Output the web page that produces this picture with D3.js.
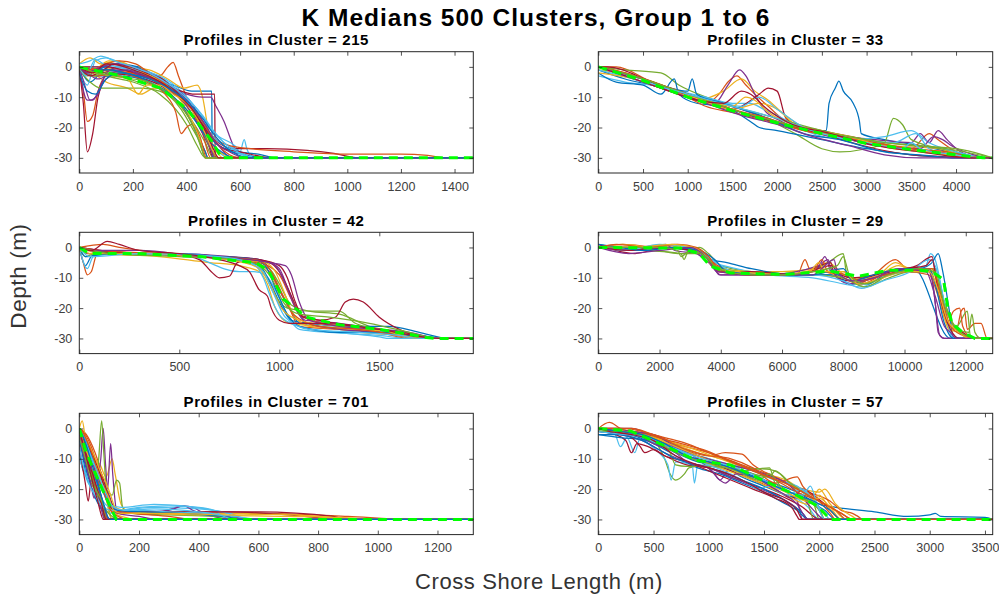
<!DOCTYPE html>
<html>
<head>
<meta charset="utf-8">
<script src="https://cdn.jsdelivr.net/npm/d3@7"></script>
<style>
  body { margin: 0; background: #fff; }
  svg { display: block; }
  text { font-family: "Liberation Sans", Arial, Helvetica, sans-serif; }
</style>
</head>
<body>
<svg id="fig" width="999" height="599"></svg>
<script>
// ---- Figure text ----
const figureTitle = "K Medians 500 Clusters, Group 1 to 6";
const xAxisLabel = "Cross Shore Length (m)";
const yAxisLabel = "Depth (m)";

// ---- Cluster sizes (one subplot each) ----
const clusterSizes = [215, 33, 42, 29, 701, 57];

// ---- Cross-shore extent of each subplot (m) ----
const xExtents = [1470, 4410, 1970, 12880, 1320, 3570];

// ---- Tick labels ----
const xTickValues = [
  [0, 200, 400, 600, 800, 1000, 1200, 1400],
  [0, 500, 1000, 1500, 2000, 2500, 3000, 3500, 4000],
  [0, 500, 1000, 1500],
  [0, 2000, 4000, 6000, 8000, 10000, 12000],
  [0, 200, 400, 600, 800, 1000, 1200],
  [0, 500, 1000, 1500, 2000, 2500, 3000, 3500]
];
const yTickValues = [0, -10, -20, -30];
const yDomain = [-35, 5];
const floorDepth = -30;   // profiles are padded at this depth to the subplot extent

// ---- Cluster 215: profiles [cross-shore m, depth m] ----
const profiles215 = [
  [[0,0],[40,-5],[80,-2],[140,1],[220,0],[300,-4],[370,-9],[430,-15],[480,-22],[540,-27],[620,-29],[700,-30]],
  [[0,0],[15,-8],[30,-18],[50,-16],[70,-8],[100,-3],[180,-1],[260,-3],[330,-8],[380,-13],[430,-20],[470,-28],[480,-30]],
  [[0,0],[50,-2],[100,-5],[180,-7],[230,-9],[280,-7],[340,-8],[400,-13],[450,-20],[490,-27],[510,-30]],
  [[0,-1],[30,-11],[50,-11],[80,-6],[110,-1],[180,0],[260,-2],[340,-6],[420,-12],[470,-20],[520,-26],[570,-30]],
  [[0,-1],[40,-5],[80,-7],[150,-7],[230,-7],[300,-8],[380,-13],[430,-19],[470,-25],[500,-30]],
  [[0,-1],[30,-6],[60,2],[100,3],[160,1],[220,-1],[300,-4],[380,-9],[440,-16],[480,-23],[520,-28],[560,-30]],
  [[0,-1],[15,-12],[30,-28],[50,-22],[70,-10],[100,-4],[160,-2],[240,-3],[320,-7],[400,-12],[450,-18],[480,-25],[500,-30]],
  [[0,0],[80,-1],[180,-2],[280,-4],[350,-6],[420,-8],[494,-8],[496,-30]],
  [[0,0],[80,-2],[160,0],[240,-2],[300,-3],[330,0],[350,1.5],[370,-3],[400,-10],[430,-16],[460,-22],[490,-30]],
  [[0,0],[70,-1],[170,0],[260,-1],[330,-4],[390,-7],[440,-6],[460,-10],[480,-20],[500,-26],[540,-30]],
  [[0,0],[60,-1],[150,-1],[250,-3],[330,-6],[400,-9],[460,-10],[490,-10],[510,-13],[540,-18],[570,-25],[600,-30]],
  [[0,0],[100,-3],[200,-5],[300,-9],[360,-14],[400,-19],[440,-26],[470,-30]],
  [[0,0],[100,-1],[200,-3],[300,-6],[400,-12],[460,-18],[520,-23],[580,-26],[600,-28],[615,-24],[625,-27],[650,-30]],
  [[0,0],[100,-2],[200,-3],[300,-6],[400,-12],[470,-20],[520,-25],[580,-27],[700,-27],[850,-27.5],[950,-28.5],[1040,-30]],
  [[0,0],[60,-3],[150,-3],[260,-5],[340,-9],[400,-15],[440,-22],[470,-28],[480,-30]],
  [[0,-1],[60,-3],[150,-2],[250,-5],[320,-9],[360,-15],[380,-22],[400,-20],[420,-19],[450,-23],[475,-30]],
  [[0,1],[40,3],[80,1],[140,2],[200,0],[280,-3],[350,-7],[400,-11],[440,-16],[470,-21],[500,-26],[540,-29],[580,-30]],
  [[0,0],[20,-6],[40,-11],[70,-9],[100,-2],[150,0],[220,-2],[300,-5],[360,-9],[410,-14],[460,-22],[490,-27],[520,-30]],
  [[0,0],[30,-3],[60,-1],[120,1],[200,-1],[260,-3],[320,-6],[380,-10],[420,-14],[450,-19],[480,-25],[510,-30]],
  [[0,0],[90,0],[200,-1],[300,-3],[380,-8],[440,-14],[490,-20],[540,-25],[580,-27],[650,-30]],
  [[0,0],[100,0],[200,-2],[300,-5],[380,-8],[430,-9],[505,-9],[507,-30]],
  [[0,0],[60,-1],[130,1],[210,0],[290,-4],[360,-8],[420,-13],[470,-21],[520,-26],[600,-28],[680,-29],[730,-30]],
  [[0,0],[90,-1],[190,-2],[290,-5],[390,-11],[450,-17],[500,-23],[560,-26],[640,-27],[800,-28],[1000,-28.8],[1200,-28.8],[1300,-29.2],[1370,-30]],
  [[0,0],[40,-2],[110,2],[170,1],[240,-2],[310,-5],[370,-10],[410,-16],[450,-24],[470,-30]],
  [[0,0],[30,-2],[70,-4],[120,-2],[180,-1],[230,-3],[280,-4],[330,-7],[370,-10],[410,-13],[445,-17],[470,-22],[490,-27],[505,-30]],
  [[0,-1],[50,-3],[100,-2],[150,-3],[220,-5],[270,-6],[330,-9],[380,-14],[420,-20],[450,-25],[470,-30]],
  [[0,0],[25,-3],[60,2.5],[90,1],[150,0],[210,-1],[270,-2],[330,-5],[390,-10],[430,-15],[470,-20],[510,-24],[560,-27],[610,-29],[660,-30]],
  [[0,0],[40,-3],[90,-1],[130,1],[190,0],[250,-2],[310,-4],[360,-8],[410,-13],[460,-19],[500,-24],[540,-27],[600,-28],[720,-30]],
  [[0,0],[50,-1],[110,-1],[170,-2],[240,-4],[300,-7],[350,-10],[400,-14],[450,-20],[490,-25],[530,-28],[580,-30]],
  [[0,0],[40,-1],[100,1],[150,2],[210,1],[260,-2],[310,-5],[360,-9],[400,-12],[440,-15],[480,-21],[520,-26],[560,-29],[600,-30]],
  [[0,0],[60,-2],[120,-3],[180,-4],[220,-9],[250,-6],[300,-6],[350,-9],[400,-12],[440,-17],[470,-22],[500,-28],[520,-30]],
  [[0,0],[30,-2],[80,0],[140,1],[200,0],[260,-2],[320,-5],[380,-9],[430,-14],[470,-19],[510,-25],[560,-28],[620,-30]],
  [[0,0],[60,-2],[130,-3],[200,-4],[260,-5],[320,-8],[370,-12],[410,-17],[440,-23],[460,-28],[470,-30]],
  [[0,1],[40,2],[80,3.5],[130,2],[200,0],[260,-2],[320,-5],[370,-8],[420,-12],[460,-16],[500,-21],[540,-25],[590,-28],[640,-30]],
  [[0,0],[50,-2],[100,1],[150,0.5],[200,-1],[260,-3],[320,-6],[380,-10],[430,-15],[470,-21],[500,-27],[520,-30]],
  [[0,-2],[30,-8],[60,-9],[100,-4],[150,-2],[220,-3],[290,-5],[350,-8],[410,-12],[460,-17],[500,-22],[540,-26],[590,-29],[640,-30]]
];
const median215 = [[0,0],[20,-0.5],[145,-2.7],[306,-7.1],[406,-14.3],[493,-24.3],[531,-30],[1470,-30]];

// ---- Cluster 33 ----
const profiles33 = [
  [[0,-1],[300,-4],[600,-6],[900,-8],[1200,-11],[1500,-14],[1800,-17],[2100,-19],[2400,-21],[2550,-21],[2580,-12],[2650,-7],[2690,-4.7],[2740,-8],[2850,-12],[2920,-18],[2940,-22],[3200,-24],[3600,-26],[4000,-28.5],[4300,-30]],
  [[0,0],[200,0],[600,-5],[1000,-9],[1200,-12],[1350,-9],[1450,-5],[1550,-3],[1650,-6],[1750,-9],[1900,-13],[2100,-18],[2500,-21],[3000,-24],[3500,-27],[3700,-22],[3800,-24],[4000,-28],[4250,-30]],
  [[0,-1],[400,-3],[800,-7],[1100,-11],[1400,-8],[1600,-4],[1750,-8],[1900,-11],[2050,-15],[2300,-20],[2800,-23],[3300,-26],[3800,-27],[4200,-30]],
  [[0,0],[300,-3],[700,-7],[1000,-10],[1300,-12],[1450,-6],[1580,-1],[1650,-3],[1750,-9],[1850,-14],[2050,-18],[2500,-22],[3100,-24],[3500,-25],[3600,-22],[3700,-25],[3800,-21],[3900,-24],[4050,-28],[4300,-30]],
  [[0,0],[300,-1],[700,-2],[900,-6],[1300,-11],[1800,-16],[2200,-22],[2500,-27],[2700,-28],[3000,-27],[3200,-25],[3300,-17],[3400,-19],[3500,-24],[4000,-28],[4300,-30]],
  [[0,-3],[300,-5],[600,-6],[900,-8],[1200,-10],[1500,-12],[1700,-12],[1850,-14],[2000,-16],[2300,-21],[2800,-24],[3200,-23],[3500,-21],[3700,-25],[4000,-28],[4400,-30]],
  [[0,0],[400,-3],[800,-7],[1200,-12],[1500,-14],[1800,-9],[1900,-7],[2000,-8],[2100,-17],[2400,-21],[3000,-25],[3500,-27],[4000,-29],[4350,-30]],
  [[0,-2],[200,-5],[500,-6],[700,-9],[850,-4],[900,-9],[1100,-12],[1400,-13],[1700,-18],[1800,-20],[2000,-21],[2500,-24],[3000,-27],[3500,-29],[4000,-30]],
  [[0,0],[300,-2],[600,-5],[1000,-10],[1200,-13],[1500,-15],[1900,-18],[2300,-21],[2800,-24],[3200,-26],[3500,-27],[3800,-28],[4300,-30]],
  [[0,0],[500,-4],[1000,-9],[1500,-14],[1800,-12],[2000,-14],[2200,-19],[2700,-23],[3200,-26],[3600,-28],[4000,-29],[4300,-30]],
  [[0,0],[600,-5],[1100,-10],[1600,-14],[2100,-19],[2600,-22],[3100,-26],[3600,-27],[3750,-23],[3850,-24],[3950,-26],[4200,-29],[4350,-30]],
  [[0,0],[500,-4],[1000,-9],[1500,-13],[2000,-17],[2500,-21],[3000,-24],[3500,-26],[4000,-27],[4300,-29],[4410,-30]],
  [[0,-1],[400,-4],[900,-8],[1300,-11],[1600,-13],[1800,-10],[2000,-14],[2300,-20],[2800,-24],[3300,-25],[3550,-22],[3700,-27],[4100,-30]],
  [[0,0],[100,0],[600,-5],[1100,-10],[1600,-15],[2100,-19],[2600,-23],[3100,-27],[3500,-29],[3800,-29.5],[4200,-30]],
  [[0,0],[400,-3],[800,-7],[1000,-8],[1050,-4],[1100,-9],[1400,-12],[1900,-17],[2300,-22],[2700,-24],[3200,-28],[3600,-29],[4000,-30]],
  [[0,0],[300,-2],[700,-6],[1100,-10],[1500,-14],[1900,-17],[2300,-21],[2700,-23],[3100,-25],[3500,-27],[3900,-28],[4250,-30]],
  [[0,-2],[400,-4],[800,-8],[1200,-11],[1500,-13],[1650,-10],[1750,-11],[1900,-15],[2300,-20],[2800,-23],[3300,-27],[3700,-28],[4150,-30]],
  [[0,0],[400,-4],[800,-8],[1200,-12],[1600,-16],[2000,-19],[2400,-23],[2800,-26],[3200,-29],[3600,-30]],
  [[0,0],[400,-3],[800,-7],[1200,-11],[1600,-15],[2000,-18],[2400,-21],[2800,-23],[3200,-25],[3600,-26],[4000,-27.5],[4410,-30]],
  [[0,0],[500,-5],[1000,-9],[1500,-13],[2000,-17],[2500,-22],[3000,-25],[3400,-27],[3500,-25],[3600,-27],[4000,-29],[4300,-30]],
  [[0,0],[300,-3],[700,-7],[1100,-11],[1400,-12],[1600,-8],[1750,-10],[1850,-13],[2100,-18],[2600,-22],[3100,-26],[3600,-28],[4200,-30]]
];
const median33 = [[0,0],[500,-4.5],[1000,-10],[1500,-14.5],[2000,-18.5],[2500,-22],[3000,-25.3],[3500,-27.3],[4000,-29],[4300,-30],[4410,-30]];

// ---- Cluster 42 ----
const profiles42 = [
  [[0,0],[30,-6],[60,-3],[100,-2],[400,-2],[700,-3],[900,-4],[960,-8],[1000,-14],[1060,-21],[1100,-25],[1200,-26],[1400,-27],[1600,-28],[1850,-30]],
  [[0,0],[20,-5],[40,-9],[60,-8],[90,-2],[200,-2],[500,-2],[750,-4],[880,-5],[950,-8],[1000,-14],[1050,-20],[1100,-26],[1300,-27],[1500,-28],[1700,-30]],
  [[0,0],[100,-2],[400,-3],[650,-5],[800,-6],[900,-8],[940,-12],[980,-20],[1050,-25],[1200,-26],[1400,-28],[1600,-29],[1700,-30]],
  [[0,0],[100,-1],[300,-2],[600,-3],[850,-4],[950,-5],[1000,-7],[1040,-13],[1080,-19],[1130,-24],[1300,-25],[1500,-27],[1700,-29],[1800,-30]],
  [[0,0],[50,-2],[300,-2],[600,-3],[850,-5],[950,-7],[1000,-12],[1060,-19],[1150,-21],[1300,-22],[1450,-26],[1600,-28],[1750,-30]],
  [[0,0],[40,-7],[70,-3],[200,-2],[500,-2],[800,-8],[870,-8],[930,-9],[980,-14],[1030,-21],[1100,-27],[1250,-28],[1500,-29],[1650,-30]],
  [[0,0],[100,-1],[300,-2],[500,-2.5],[600,-4],[660,-8],[700,-10],[750,-9.5],[790,-5],[850,-4],[950,-5],[1000,-8],[1060,-16],[1100,-22],[1200,-24],[1400,-26],[1600,-28],[1750,-30]],
  [[0,0],[200,-2],[500,-2],[700,-3],[900,-6],[950,-11],[1000,-18],[1060,-24],[1150,-25],[1350,-26],[1550,-26],[1700,-28],[1850,-30]],
  [[0,0],[120,1],[200,0],[450,-2],[700,-3],[900,-5],[1000,-9],[1060,-17],[1120,-23],[1300,-26],[1500,-28],[1650,-30]],
  [[0,0],[150,-2],[450,-2],[800,-4],[930,-5],[980,-8],[1020,-14],[1070,-22],[1150,-26],[1400,-27],[1600,-28],[1750,-30]],
  [[0,0],[40,-2],[200,-2],[500,-2],[750,-3],[900,-4],[980,-6],[1030,-12],[1080,-20],[1140,-25],[1300,-27],[1500,-28],[1650,-29],[1800,-30]],
  [[0,0],[30,-3],[80,-2],[300,-2],[650,-3],[870,-5],[920,-8],[980,-16],[1040,-20],[1150,-21],[1300,-21],[1380,-25],[1500,-27],[1700,-30]],
  [[0,0],[150,-2],[500,-2],[750,-4],[880,-6],[920,-10],[960,-17],[1010,-23],[1100,-26],[1300,-28],[1500,-29.5],[1550,-30]],
  [[0,0],[100,-1.5],[400,-2],[700,-3],[900,-4],[1000,-6],[1040,-10],[1080,-18],[1120,-23],[1200,-24],[1280,-23],[1330,-18],[1370,-17],[1420,-18],[1500,-23],[1600,-27],[1750,-30]],
  [[0,0],[30,-3],[150,-2],[450,-2],[700,-3],[880,-4],[930,-6],[990,-15],[1040,-22],[1100,-26],[1300,-28],[1550,-28],[1750,-30]],
  [[0,0],[100,-1],[400,-2],[650,-3],[880,-4],[950,-7],[1020,-16],[1070,-22],[1200,-26],[1400,-27],[1600,-29],[1750,-30]],
  [[0,-1],[60,-2],[300,-2],[600,-3],[820,-5],[900,-7],[960,-13],[1010,-20],[1100,-24],[1300,-26],[1500,-27],[1700,-30]],
  [[0,0],[80,-1],[300,-1],[600,-3],[850,-4],[950,-5],[1030,-6],[1060,-9],[1100,-18],[1150,-24],[1300,-26],[1500,-27],[1650,-28],[1800,-30]],
  [[0,0],[150,-2],[500,-3],[780,-4],[900,-6],[960,-10],[1020,-18],[1100,-22],[1250,-23],[1450,-25],[1650,-28],[1800,-30]],
  [[0,0],[50,-3],[300,-2],[700,-3],[850,-5],[920,-8],[970,-15],[1030,-23],[1150,-27],[1400,-28],[1600,-29],[1700,-30]],
  [[0,0],[60,-1],[140,2],[200,1],[300,-1],[500,-2],[700,-4],[800,-6],[850,-8],[900,-14],[940,-16],[960,-20],[1000,-24],[1050,-25],[1200,-25],[1500,-27],[1800,-30]]
];
const median42 = [[0,0],[50,-2],[300,-2],[600,-3],[887,-5.1],[950,-8],[1020,-17],[1137,-23],[1300,-25.5],[1503,-27],[1737,-29.7],[1780,-30],[1970,-30]];

// ---- Cluster 29 ----
const profiles29 = [
  [[0,1],[500,0],[1000,-1],[2000,0],[3000,-1],[3500,-3],[3800,-7],[4500,-8],[6000,-9],[7000,-9],[8000,-9],[8500,-11],[9500,-8],[10300,-7],[11500,-30]],
  [[0,0],[800,1],[2000,0],[3000,0],[3600,-3],[3900,-8],[5000,-9],[6500,-9],[6750,-4],[6900,-7],[7400,-8],[8000,-10],[8500,-12],[9000,-9],[9700,-4],[10200,-8],[10800,-7],[11100,-15],[11400,-22],[11700,-27],[11850,-21],[11950,-20],[12050,-27],[12300,-25],[12500,-25],[12700,-30]],
  [[0,0],[1500,0],[2700,0],[3300,-1],[3800,-6],[4800,-8],[6000,-8],[7000,-7],[7500,-5],[8200,-10],[9000,-10],[9700,-5],[10200,-7],[10900,-7],[11200,-16],[11500,-24],[12000,-29],[12300,-30]],
  [[0,0],[1200,-1],[2200,1],[2500,-1],[3200,-2],[3700,-5],[3950,-9],[5500,-9],[7200,-6],[7400,-3],[7600,-8],[8300,-12],[9000,-10],[10000,-7],[10700,-7],[10900,-10],[11000,-18],[11150,-29],[11300,-30]],
  [[0,0],[1500,-1],[2700,-2],[2800,-4],[2900,-2],[3300,0],[3600,-2],[4000,-6],[5000,-8],[6500,-9],[7500,-5],[8000,-2],[8100,-8],[8700,-13],[9500,-9],[10500,-7],[11000,-7],[11300,-18],[11700,-26],[12050,-21],[12150,-29],[12400,-30]],
  [[0,0],[1000,-1],[2500,0],[3300,-2],[3800,-5],[4500,-7],[5500,-9],[7000,-10],[8000,-12],[8600,-13],[9200,-10],[10000,-8],[10700,-6],[10850,-2],[11000,-4],[11200,-13],[11400,-25],[11600,-30]],
  [[0,1],[1200,-2],[2200,0],[3200,-1],[3500,-3],[3850,-7],[5000,-9],[6500,-9],[7600,-5],[7700,-9],[8200,-11],[8700,-10],[9500,-8],[10400,-6],[10900,-3],[11000,-8],[11200,-18],[11500,-26],[11900,-28],[12200,-30]],
  [[0,0],[1000,0],[2500,0],[3300,-1],[3700,-4],[4200,-5],[5000,-7],[6500,-9],[7800,-9],[8200,-12],[8800,-12],[9500,-8],[10500,-7],[10900,-5],[11100,-2],[11250,-8],[11450,-20],[11600,-30]],
  [[0,0],[1000,0],[2500,1],[3400,-2],[3900,-6],[4500,-8],[6000,-9],[7000,-8],[8000,-8],[8600,-12],[9300,-9],[10000,-8],[10800,-9],[11100,-16],[11400,-25],[11600,-21],[11800,-20],[11900,-26],[12200,-30]],
  [[0,0],[800,1],[1800,0],[2900,0],[3500,-2],[3900,-7],[5000,-8],[6200,-9],[7300,-7],[7700,-9],[8400,-11],[9200,-9],[9800,-6],[10400,-8],[10900,-7],[11150,-17],[11450,-27],[11800,-28],[12100,-30]],
  [[0,0],[1000,-1],[2100,0],[3000,-1],[3600,-5],[4000,-9],[6000,-9],[7000,-8],[7500,-4],[7600,-7],[8200,-12],[9000,-10],[10000,-8],[10800,-8],[11000,-18],[11100,-28],[11300,-30]],
  [[0,0],[1000,0],[2000,-1],[2600,-2],[3400,-2],[3800,-6],[4600,-8],[6000,-9],[7000,-9],[8000,-10],[8700,-13],[9500,-10],[10200,-8],[10900,-8],[11300,-18],[11700,-27],[12100,-28],[12200,-22],[12300,-28],[12500,-30]],
  [[0,0],[900,-1],[2000,1],[3000,0],[3700,-4],[4400,-8],[5500,-9],[7000,-9],[8000,-11],[8600,-13.5],[9300,-11],[10200,-8],[10800,-4],[11000,-6],[11300,-18],[11500,-28],[11700,-30]],
  [[0,0],[1000,-1],[2000,0],[3100,-1],[3600,-4],[3950,-8],[5000,-8],[6500,-9],[7600,-6],[7900,-9],[8300,-10],[9000,-9],[10000,-7],[10700,-6],[10900,-4],[11100,-14],[11500,-27],[11800,-30]],
  [[0,1],[700,0],[1500,-1],[2500,0],[3300,-1],[3800,-4],[4200,-8],[5500,-9],[7000,-9],[8000,-7],[8300,-11],[9000,-9],[10000,-7],[10800,-7],[11000,-12],[11300,-25],[11600,-30]],
  [[0,0],[600,1],[1600,0],[2600,1],[3200,0],[3600,-3],[4000,-8],[5000,-9],[6000,-9],[7000,-8],[7300,-4],[7500,-8],[8100,-9],[8600,-11],[9400,-9],[10000,-8],[10900,-7],[11200,-16],[11500,-26],[11900,-29],[12200,-30]],
  [[0,0],[1200,0],[2400,1],[3100,0],[3500,-3],[3800,-7],[4600,-8],[6000,-9],[6900,-8],[7200,-5],[7400,-8],[8000,-8],[8500,-12],[9300,-10],[10000,-8],[10800,-8],[11100,-14],[11400,-24],[11800,-28],[12100,-30]],
  [[0,0],[1000,-2],[2000,-1],[3000,0],[3500,-3],[3900,-8],[5000,-9],[6000,-9],[7000,-9],[7700,-4],[7800,-8],[8300,-11],[9000,-10],[9800,-7],[10700,-8],[11000,-16],[11300,-26],[11500,-28],[11700,-30]],
  [[0,0],[1000,0],[2000,0],[2600,-1],[2700,-3],[3000,-1],[3500,-3],[3900,-7],[5000,-9],[6000,-9],[7000,-8],[7800,-6],[8000,-3],[8200,-9],[8700,-12],[9500,-9],[10500,-7],[11000,-8],[11300,-19],[11700,-27],[12000,-29],[12300,-30]]
];
const median29 = [[0,0],[2680,-0.2],[3300,-2],[3660,-6.2],[4314,-8.4],[6058,-8.9],[7582,-7.8],[8500,-9.5],[9500,-7.5],[10500,-7.5],[10900,-8],[11274,-10.6],[11400,-19],[11550,-25],[11900,-28],[12300,-30],[12880,-30]];

// ---- Cluster 701 ----
const profiles701 = [
  [[0,-8],[10,-13],[20,-15],[35,-10],[50,-18],[65,-22],[80,-26],[85,-30]],
  [[0,0],[15,-1],[30,-3],[45,-6],[60,-10],[75,-16],[90,-22],[105,-27],[130,-28],[300,-28],[600,-28],[900,-29],[1100,-30]],
  [[0,0],[10,2.5],[20,-3],[40,-8],[70,-12],[90,-16],[110,-10],[120,-15],[140,-25],[160,-27],[400,-28],[600,-28],[800,-29],[1000,-30]],
  [[0,0],[20,-6],[40,-14],[60,-17],[72,-10],[80,0],[88,-12],[95,-20],[105,-5],[112,-15],[125,-27],[140,-28],[250,-28],[350,-25.5],[380,-26],[420,-28],[500,-29],[600,-30]],
  [[0,0],[10,-5],[25,-12],[40,-18],[55,-20],[65,-10],[75,2.5],[82,-8],[90,-20],[100,-27],[110,-30]],
  [[0,-10],[15,-14],[30,-18],[45,-20],[60,-22],[80,-25],[100,-28],[150,-27],[250,-26],[400,-26.5],[500,-28],[520,-30]],
  [[0,-5],[10,-12],[20,-18],[30,-24],[40,-17],[55,-20],[70,-24],[85,-28],[88,-30]],
  [[0,0],[15,-4],[30,-10],[50,-16],[70,-22],[85,-27],[90,-30]],
  [[0,-2],[10,-6],[25,-10],[45,-14],[65,-18],[85,-22],[100,-26],[120,-29],[140,-30]],
  [[0,0],[20,-3],[40,-7],[55,-12],[70,-17],[90,-23],[100,-28],[110,-30]],
  [[0,0],[20,-3],[40,-8],[60,-14],[80,-18],[100,-22],[120,-27],[150,-28],[300,-27],[350,-25.5],[380,-27],[450,-29],[500,-30]],
  [[0,0],[20,-7],[40,-13],[60,-17],[90,-20],[110,-22],[125,-17],[135,-18],[145,-26],[170,-28],[300,-28.5],[450,-29],[600,-30]],
  [[0,-5],[20,-9],[40,-14],[60,-19],[80,-24],[100,-26],[130,-27],[200,-26],[300,-25.5],[400,-26],[450,-27],[500,-30]],
  [[0,0],[10,-2],[25,-5],[40,-8],[60,-12],[75,-15],[90,-20],[110,-25],[130,-27],[200,-27.5],[500,-27.5],[700,-28.5],[880,-30]],
  [[0,-3],[10,-8],[20,-14],[35,-18],[50,-15],[65,-20],[80,-25],[90,-30]],
  [[0,0],[20,-2],[40,-6],[60,-12],[80,-18],[100,-24],[120,-27],[180,-28],[300,-29],[380,-30]],
  [[0,0],[10,-2],[20,-6],[35,-9],[50,-11],[65,-14],[80,-19],[95,-24],[110,-27],[140,-29],[200,-30]],
  [[0,0],[15,-3],[30,-8],[50,-13],[65,-17],[80,-20],[100,-25],[130,-28],[200,-29],[260,-30]],
  [[0,-1],[20,-6],[35,-11],[50,-17],[60,-22],[70,-25],[80,-28],[85,-30]],
  [[0,-2],[20,-5],[40,-10],[60,-15],[80,-21],[100,-25],[140,-26],[250,-25],[350,-25.5],[450,-27],[520,-28.5],[560,-30]],
  [[0,-1],[15,-4],[30,-7],[50,-10],[70,-15],[85,-20],[100,-25],[120,-27],[400,-27.5],[600,-27.5],[850,-29],[900,-30]],
  [[0,-4],[15,-10],[30,-16],[50,-22],[70,-26],[85,-28],[100,-30]],
  [[0,0],[8,-3],[18,-8],[30,-12],[45,-16],[60,-20],[75,-24],[90,-29],[95,-30]],
  [[0,0],[15,-2],[30,-5],[50,-9],[70,-14],[90,-18],[105,-22],[120,-26],[150,-27],[250,-28],[400,-28.5],[700,-29],[900,-29.5],[1000,-30]],
  [[0,-2],[10,-7],[25,-13],[40,-19],[50,-23],[60,-21],[70,-25],[80,-29],[85,-30]],
  [[0,0],[12,-4],[25,-9],[40,-15],[55,-21],[65,-19],[75,-24],[85,-28],[90,-30]],
  [[0,-6],[10,-11],[25,-16],[40,-20],[60,-23],[80,-26],[110,-27],[200,-27],[300,-27.5],[420,-28],[520,-29],[600,-30]],
  [[0,0],[10,-3],[20,-7],[30,-11],[45,-15],[60,-20],[75,-25],[85,-29],[90,-30]],
  [[0,-1],[20,-4],[40,-9],[55,-13],[70,-18],[85,-22],[100,-25],[130,-27],[220,-27.5],[350,-28],[480,-29],[560,-30]],
  [[0,0],[10,-1],[25,-4],[45,-9],[60,-14],[75,-19],[90,-23],[105,-27],[130,-29],[160,-30]],
  [[0,0],[15,-5],[30,-9],[45,-12],[60,-15],[80,-19],[100,-23],[115,-27],[140,-28],[300,-28],[500,-28.5],[650,-28.3],[800,-29],[900,-30]],
  [[0,0],[10,-4],[25,-10],[35,-14],[45,-12],[60,-17],[75,-23],[90,-28],[100,-30]],
  [[0,-3],[15,-8],[30,-13],[45,-18],[60,-21],[75,-24],[90,-27],[110,-29],[130,-30]],
  [[0,0],[20,-4],[35,-8],[55,-13],[75,-18],[95,-23],[115,-26],[150,-27],[250,-26.5],[320,-26.8],[400,-27.5],[470,-28.5],[520,-30]],
  [[0,-1],[12,-5],[25,-10],[38,-15],[50,-20],[62,-24],[72,-28],[80,-30]],
  [[0,0],[10,-2],[25,-6],[40,-11],[55,-16],[70,-21],[85,-26],[95,-29],[105,-30]]
];
const median701 = [[0,0],[23,-7.9],[52,-14.4],[79,-20.5],[107,-26.5],[124,-30],[1320,-30]];

// ---- Cluster 57 ----
const profiles57 = [
  [[0,0],[300,-1],[600,-4],[900,-9],[1200,-13],[1500,-17],[1800,-21],[2000,-25],[2150,-26],[2500,-27.5],[2800,-29],[3000,-28.5],[3050,-28],[3100,-29],[3500,-29.3],[3570,-30]],
  [[0,0],[100,2],[200,0],[400,-2],[700,-6],[1000,-9],[1150,-8],[1300,-8.5],[1400,-12],[1600,-16],[1800,-20],[2000,-24],[2200,-28],[2300,-30]],
  [[0,-1],[300,-1],[600,-4],[900,-8],[1200,-11],[1400,-14],[1700,-17],[1950,-22],[2000,-20],[2100,-25],[2250,-30]],
  [[0,0],[300,0],[600,-5],[900,-10],[1050,-15],[1100,-17],[1200,-13],[1400,-15],[1600,-19],[1800,-24],[1850,-30]],
  [[0,0],[300,-1],[500,-4],[600,-10],[650,-15],[700,-17],[780,-15],[820,-13],[1000,-12],[1300,-14],[1550,-13],[1600,-18],[1800,-22],[1950,-25],[2000,-30]],
  [[0,-1],[150,-2],[200,-6],[260,-3],[330,-8],[380,-3],[450,-5],[550,-8],[630,-12],[660,-17],[700,-11],[850,-12],[870,-18],[900,-12],[1100,-13],[1400,-16],[1700,-21],[1900,-26],[2000,-30]],
  [[0,-1],[150,-2],[250,-4],[300,-8],[350,-5],[450,-6],[600,-9],[800,-12],[1000,-13],[1200,-16],[1500,-20],[1700,-23],[1850,-26],[1950,-29],[2000,-30]],
  [[0,-2],[200,-3],[450,-4],[700,-8],[900,-11],[1100,-12],[1300,-16],[1500,-19],[1700,-22],[1900,-24],[2050,-27],[2150,-30]],
  [[0,0],[200,-1],[500,-2],[700,-5],[1000,-8],[1300,-12],[1600,-16],[1900,-21],[2100,-24],[2200,-27],[2300,-28],[2350,-29],[2400,-30]],
  [[0,0],[250,-1],[500,-3],[800,-6],[1100,-10],[1400,-14],[1700,-18],[2000,-21],[2050,-20],[2150,-25],[2300,-29],[2350,-30]],
  [[0,-1],[200,-2],[400,-4],[600,-8],[800,-11],[1000,-13],[1200,-16],[1400,-19],[1600,-22],[1750,-25],[1850,-28],[1900,-30]],
  [[0,0],[200,-1],[500,-4],[700,-7],[1000,-10],[1300,-13],[1550,-13.5],[1650,-15],[1800,-21],[1900,-25],[1950,-30]],
  [[0,0],[250,-1],[500,-4],[800,-8],[1100,-11],[1400,-14],[1600,-17],[1800,-19],[1900,-22],[2000,-27],[2050,-30]],
  [[0,0],[200,-1],[400,-3],[600,-6],[800,-9],[1000,-11],[1200,-14],[1400,-17],[1600,-20],[1750,-23],[1850,-20],[1950,-22],[2050,-25],[2200,-30]],
  [[0,-2],[250,-2],[500,-5],[700,-9],[900,-13],[1100,-15],[1300,-18],[1500,-21],[1700,-25],[1800,-27],[1900,-30]],
  [[0,-1],[300,-1],[550,-3],[800,-7],[1000,-9],[1200,-10],[1400,-13],[1600,-18],[1800,-16],[1850,-19],[2000,-24],[2100,-28],[2150,-30]],
  [[0,0],[150,-1],[350,-2],[550,-5],[800,-9],[1100,-13],[1400,-17],[1700,-22],[1900,-25],[2000,-22],[2100,-27],[2200,-30]],
  [[0,0],[300,-1],[500,-2],[700,-6],[900,-9],[1200,-12],[1500,-15],[1700,-18],[1850,-23],[1950,-27],[2050,-30]],
  [[0,0],[200,-1],[400,-2],[550,-4],[650,-8],[700,-12],[800,-12.5],[1000,-12.5],[1200,-13],[1400,-15],[1550,-16],[1600,-14],[1700,-17],[1850,-21],[2000,-26],[2050,-30]],
  [[0,-1],[200,-1],[400,-3],[600,-6],[800,-9],[1000,-12],[1200,-15],[1350,-18],[1450,-20],[1550,-19],[1700,-22],[1850,-20],[1950,-24],[2050,-28],[2100,-30]],
  [[0,0],[150,-1],[300,-3],[380,-6],[420,-8],[500,-7],[600,-9],[800,-11],[1000,-14],[1200,-17],[1400,-20],[1600,-23],[1750,-26],[1800,-29],[1820,-30]],
  [[0,-1],[200,-2],[400,-4],[550,-7],[700,-10],[900,-12],[1100,-14],[1300,-17],[1500,-20],[1700,-24],[1850,-28],[1900,-30]],
  [[0,0],[300,0],[500,-2],[600,-3],[800,-5],[1000,-8],[1200,-11],[1400,-14],[1600,-17],[1800,-21],[2000,-24],[2150,-27],[2250,-30]],
  [[0,0],[250,-1],[500,-3],[700,-6],[900,-9],[1100,-12],[1300,-15],[1500,-18],[1700,-21],[1900,-24],[2000,-23],[2100,-26],[2200,-30]],
  [[0,0],[200,-1],[350,-2],[500,-5],[700,-8],[800,-11],[900,-12],[1000,-13],[1100,-17],[1150,-18],[1250,-15],[1400,-16],[1600,-20],[1800,-25],[1900,-30]],
  [[0,-1],[200,-1],[450,-3],[650,-7],[850,-10],[1050,-12],[1250,-14],[1450,-17],[1550,-15],[1650,-19],[1850,-23],[2000,-27],[2050,-30]],
  [[0,-1],[250,-2],[450,-3],[650,-6],[850,-9],[1050,-11],[1250,-13],[1450,-16],[1650,-20],[1850,-22],[1920,-19],[1980,-25],[2050,-30]],
  [[0,0],[100,-1],[300,-2],[500,-4],[700,-9],[900,-12],[1100,-14],[1300,-17],[1500,-21],[1700,-24],[1800,-27],[1850,-30]],
  [[0,0],[200,-1],[400,-2],[600,-5],[800,-9],[1000,-11],[1200,-13],[1400,-16],[1600,-19],[1800,-22],[1950,-24],[2100,-27],[2200,-30]],
  [[0,0],[200,0],[400,-1],[550,-3],[750,-5],[950,-7],[1150,-10],[1350,-13],[1550,-16],[1750,-19],[1950,-23],[2100,-26],[2200,-28],[2300,-30]]
];
const median57 = [[0,0],[290,-0.8],[531,-4.6],[893,-10.6],[1195,-12],[1497,-17.2],[1798,-22.1],[1979,-25.4],[2100,-30],[3570,-30]];

// ---- Assemble subplots ----
const panels = [
  { profiles: profiles215, median: median215 },
  { profiles: profiles33,  median: median33 },
  { profiles: profiles42,  median: median42 },
  { profiles: profiles29,  median: median29 },
  { profiles: profiles701, median: median701 },
  { profiles: profiles57,  median: median57 }
].map((p, i) => ({ ...p, size: clusterSizes[i], extent: xExtents[i], ticks: xTickValues[i] }));

// MATLAB default colour order
const lineColors = ["#0072BD", "#D95319", "#EDB120", "#7E2F8E", "#77AC30", "#4DBEEE", "#A2142F"];
const axisColor = "#262626";

// Layout (2 columns x 3 rows)
const colX = [79.3, 598.3];
const colW = [394, 394.4];
const rowY = [51.7, 232.3, 413.3];
const rowH = 121.3;

const svg = d3.select("#fig");

svg.append("text")
  .attr("x", 536).attr("y", 26)
  .attr("text-anchor", "middle")
  .attr("font-size", 24.5).attr("font-weight", "bold")
  .attr("letter-spacing", 1.0)
  .attr("fill", "#000")
  .text(figureTitle);

svg.append("text")
  .attr("x", 539).attr("y", 588.5)
  .attr("text-anchor", "middle")
  .attr("font-size", 22).attr("letter-spacing", 0.6)
  .attr("fill", "#333")
  .text(xAxisLabel);

svg.append("text")
  .attr("transform", "translate(26,276) rotate(-90)")
  .attr("text-anchor", "middle")
  .attr("font-size", 22.5).attr("letter-spacing", 0.6)
  .attr("fill", "#333")
  .text(yAxisLabel);

const defs = svg.append("defs");

panels.forEach((panel, i) => {
  const col = i % 2, row = Math.floor(i / 2);
  const x0 = colX[col], y0 = rowY[row], w = colW[col], h = rowH;

  const x = d3.scaleLinear().domain([0, panel.extent]).range([0, w]);
  const y = d3.scaleLinear().domain(yDomain).range([h, 0]);

  const g = svg.append("g").attr("transform", `translate(${x0},${y0})`);

  defs.append("clipPath").attr("id", "clip" + i)
    .append("rect").attr("width", w).attr("height", h);

  const line = d3.line()
    .x(d => x(d[0])).y(d => y(d[1]))
    .curve(d3.curveMonotoneX);

  const plot = g.append("g").attr("clip-path", `url(#clip${i})`);

  // individual profiles, padded at the floor depth out to the subplot extent
  plot.selectAll("path.profile")
    .data(panel.profiles)
    .join("path")
    .attr("class", "profile")
    .attr("fill", "none")
    .attr("stroke", (d, k) => lineColors[k % lineColors.length])
    .attr("stroke-width", 1.25)
    .attr("stroke-linejoin", "round")
    .attr("d", d => {
      const last = d[d.length - 1];
      const pts = last[0] < panel.extent ? d.concat([[panel.extent, floorDepth]]) : d;
      return line(pts);
    });

  // cluster median profile
  plot.append("path")
    .attr("fill", "none")
    .attr("stroke", "#00FF00")
    .attr("stroke-width", 3)
    .attr("stroke-dasharray", "9,6")
    .attr("d", d3.line().x(d => x(d[0])).y(d => y(d[1]))(panel.median));

  // axes: ticks inward on all four sides
  const tickLen = 4;
  const xb = d3.axisBottom(x).tickValues(panel.ticks).tickSize(-tickLen).tickPadding(9).tickFormat(d => String(d));
  const xt = d3.axisTop(x).tickValues(panel.ticks).tickSize(-tickLen).tickFormat("");
  const yl = d3.axisLeft(y).tickValues(yTickValues).tickSize(-tickLen).tickPadding(7).tickFormat(d => String(d));
  const yr = d3.axisRight(y).tickValues(yTickValues).tickSize(-tickLen).tickFormat("");

  const styleAxis = sel => {
    sel.select(".domain").remove();
    sel.selectAll("line").attr("stroke", axisColor).attr("stroke-width", 0.8);
    sel.selectAll("text").attr("fill", "#404040").attr("font-size", 12.5)
      .attr("font-family", '"Liberation Sans", Arial, sans-serif');
  };
  g.append("g").attr("transform", `translate(0,${h})`).call(xb).call(styleAxis);
  g.append("g").call(xt).call(styleAxis);
  g.append("g").call(yl).call(styleAxis);
  g.append("g").attr("transform", `translate(${w},0)`).call(yr).call(styleAxis);

  g.append("rect")
    .attr("width", w).attr("height", h)
    .attr("fill", "none").attr("stroke", axisColor).attr("stroke-width", 1);

  g.append("text")
    .attr("x", w / 2).attr("y", -6.5)
    .attr("text-anchor", "middle")
    .attr("font-size", 15).attr("font-weight", "bold")
    .attr("letter-spacing", 0.6)
    .attr("fill", "#000")
    .text("Profiles in Cluster = " + panel.size);
});
</script>
</body>
</html>
